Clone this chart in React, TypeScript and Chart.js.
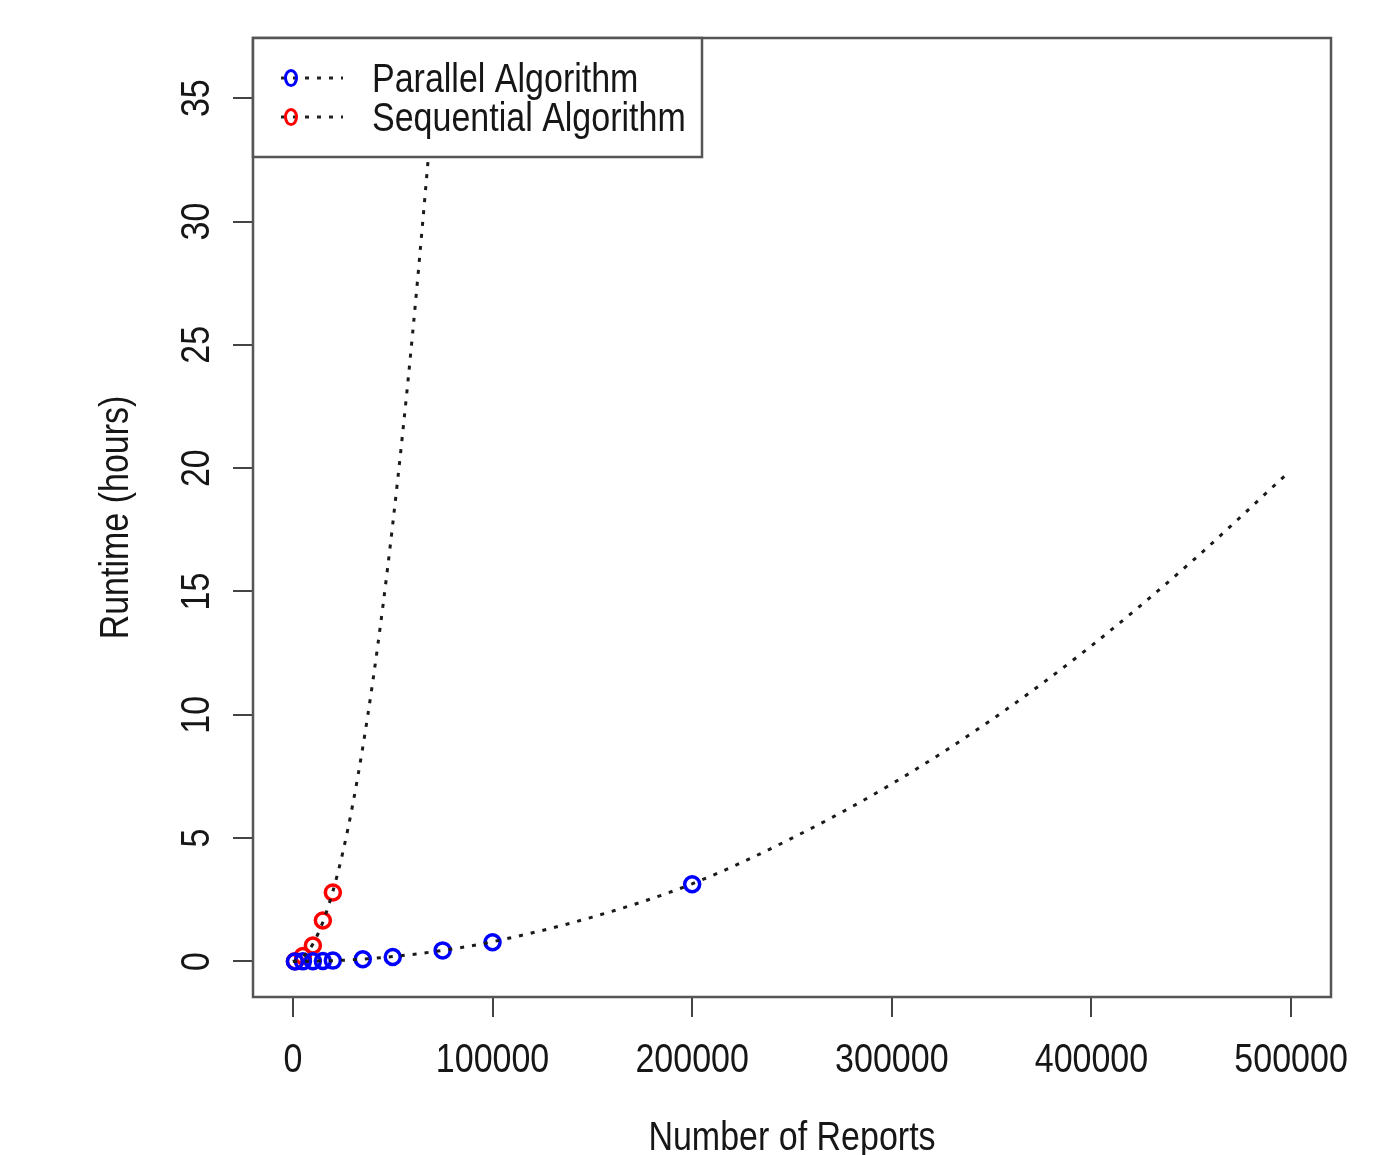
import React, { useEffect, useRef } from 'react';
import { Chart, registerables } from 'chart.js';

Chart.register(...registerables);

// ---- data ----
const xTicks = [0, 100000, 200000, 300000, 400000, 500000];
const yTicks = [0, 5, 10, 15, 20, 25, 30, 35];

const parallelX = [1000, 5000, 10000, 15000, 20000, 35000, 50000, 75000, 100000, 200000];
const parallelY = [0.0, 0.005, 0.01, 0.02, 0.035, 0.09, 0.18, 0.45, 0.78, 3.13];

const sequentialX = [1000, 5000, 10000, 15000, 20000];
const sequentialY = [0.01, 0.22, 0.65, 1.66, 2.8];

const parallelFitX = [0, 25000, 50000, 75000, 100000, 150000, 200000, 250000, 300000, 350000, 400000, 450000, 497000];
const parallelFitY = [0, 0.05, 0.2, 0.45, 0.8, 1.8, 3.15, 5.0, 7.2, 9.8, 12.8, 16.2, 19.7];

const sequentialFitX = [0, 5000, 10000, 15000, 20000, 25000, 30000, 35000, 40000, 45000, 50000, 55000, 60000, 65000, 70000, 75000];
const sequentialFitY = [0, 0.18, 0.71, 1.6, 2.84, 4.43, 6.38, 8.69, 11.35, 14.36, 17.73, 21.45, 25.5, 29.96, 34.7, 39.9];

const seriesLabels = ['Parallel Algorithm', 'Sequential Algorithm'];
const seriesColors = ['#0000ff', '#ff0000'];
const xTitle = 'Number of Reports';
const yTitle = 'Runtime (hours)';

const FONT = '"Liberation Sans", Arial, sans-serif';
const FS = 40;
const SX = 0.85; // horizontal squeeze to mimic the condensed look
const BOX = '#555555';

const zip = (xs: number[], ys: number[]) => xs.map((x, i) => ({ x, y: ys[i] }));

function narrowText(ctx: CanvasRenderingContext2D, text: string, x: number, y: number, rot: number, align: CanvasTextAlign) {
  ctx.save();
  ctx.translate(x, y);
  if (rot) ctx.rotate(rot);
  ctx.scale(SX, 1);
  ctx.textAlign = align;
  ctx.textBaseline = 'alphabetic';
  ctx.fillText(text, 0, 0);
  ctx.restore();
}

const rPlugin = {
  id: 'rstyle',
  afterDraw(chart: any) {
    const { ctx, chartArea: a, scales } = chart;
    const xs = scales.x;
    const ys = scales.y;
    ctx.save();
    // box
    ctx.strokeStyle = BOX;
    ctx.lineWidth = 2.5;
    ctx.strokeRect(a.left, a.top, a.right - a.left, a.bottom - a.top);

    ctx.fillStyle = '#161616';
    ctx.font = `${FS}px ${FONT}`;
    // x tick labels
    xTicks.forEach((v) => {
      narrowText(ctx, String(v), xs.getPixelForValue(v), a.bottom + 75, 0, 'center');
    });
    // x title
    narrowText(ctx, xTitle, (a.left + a.right) / 2, a.bottom + 153, 0, 'center');
    // y tick labels (rotated)
    yTicks.forEach((v) => {
      narrowText(ctx, String(v), a.left - 44, ys.getPixelForValue(v), -Math.PI / 2, 'center');
    });
    // y title
    narrowText(ctx, yTitle, a.left - 125, (a.top + a.bottom) / 2, -Math.PI / 2, 'center');

    // legend
    const lx = a.left;
    const ly = a.top;
    const lw = 449;
    const lh = 119;
    ctx.fillStyle = '#ffffff';
    ctx.fillRect(lx, ly, lw, lh);
    ctx.strokeStyle = BOX;
    ctx.lineWidth = 2.5;
    ctx.strokeRect(lx, ly, lw, lh);
    seriesLabels.forEach((label, i) => {
      const cy = ly + 40 + i * 39;
      ctx.save();
      ctx.strokeStyle = '#222';
      ctx.lineWidth = 3;
      ctx.setLineDash([4, 8]);
      ctx.beginPath();
      ctx.moveTo(lx + 28, cy);
      ctx.lineTo(lx + 90, cy);
      ctx.stroke();
      ctx.setLineDash([]);
      ctx.strokeStyle = seriesColors[i];
      ctx.lineWidth = 3;
      ctx.beginPath();
      ctx.ellipse(lx + 38, cy, 5.5, 7.5, 0, 0, Math.PI * 2);
      ctx.stroke();
      ctx.restore();
      ctx.fillStyle = '#161616';
      narrowText(ctx, label, lx + 119, cy + 14, 0, 'left');
    });
    ctx.restore();
  },
};

export default function App() {
  const ref = useRef<HTMLCanvasElement | null>(null);
  useEffect(() => {
    if (!ref.current) return;
    const lineDs = (label: string, xs: number[], ys: number[]) => ({
      type: 'line' as const,
      label,
      data: zip(xs, ys),
      borderColor: '#1a1a1a',
      borderWidth: 3,
      borderDash: [4, 8],
      pointRadius: 0,
      fill: false,
      cubicInterpolationMode: 'monotone' as const,
    });
    const ptDs = (label: string, xs: number[], ys: number[], color: string) => ({
      type: 'scatter' as const,
      label,
      data: zip(xs, ys),
      borderColor: color,
      backgroundColor: 'rgba(0,0,0,0)',
      pointRadius: 7.5,
      pointBorderWidth: 3.5,
      showLine: false,
    });
    const chart = new Chart(ref.current, {
      type: 'scatter',
      data: {
        datasets: [
          lineDs('Parallel fit', parallelFitX, parallelFitY),
          lineDs('Sequential fit', sequentialFitX, sequentialFitY),
          ptDs(seriesLabels[0], parallelX, parallelY, seriesColors[0]),
          ptDs(seriesLabels[1], sequentialX, sequentialY, seriesColors[1]),
        ] as any,
      },
      options: {
        responsive: false,
        animation: false,
        events: [],
        layout: { padding: { left: 0, right: 54, top: 38, bottom: 0 } },
        plugins: { legend: { display: false }, tooltip: { enabled: false } },
        scales: {
          x: {
            type: 'linear',
            min: -20000,
            max: 520000,
            afterBuildTicks: (s: any) => { s.ticks = xTicks.map((v) => ({ value: v })); },
            afterFit: (s: any) => { s.height = 158; },
            ticks: { display: false },
            grid: { drawOnChartArea: false, drawTicks: true, tickLength: 20, color: '#444', lineWidth: 2 },
            border: { display: false },
          },
          y: {
            type: 'linear',
            min: -1.44,
            max: 37.44,
            afterBuildTicks: (s: any) => { s.ticks = yTicks.map((v) => ({ value: v })); },
            afterFit: (s: any) => { s.width = 253; },
            ticks: { display: false },
            grid: { drawOnChartArea: false, drawTicks: true, tickLength: 20, color: '#444', lineWidth: 2 },
            border: { display: false },
          },
        },
      } as any,
      plugins: [rPlugin],
    });
    return () => chart.destroy();
  }, []);
  return (
    <div style={{ position: 'absolute', left: 0, top: 0, width: 1385, height: 1155, background: '#fff' }}>
      <canvas ref={ref} width={1385} height={1155} style={{ display: 'block', width: 1385, height: 1155 }} />
    </div>
  );
}
